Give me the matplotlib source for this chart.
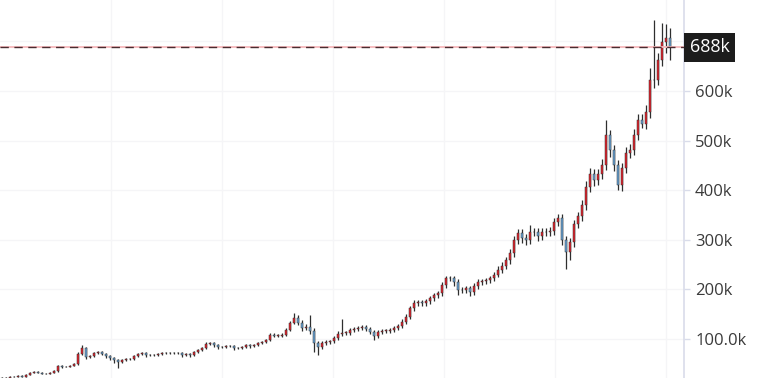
import matplotlib.pyplot as plt
import numpy as np

# weekly closes, in thousands
closes = [22, 22, 24, 24, 26, 24, 28, 32, 34, 32, 30, 30, 32, 36, 46, 44, 44, 46, 50, 69,
          81, 63, 65, 71, 73, 69, 65, 61, 57, 53, 57, 59, 59, 65, 69, 71, 67, 67, 67, 69,
          71, 71, 71, 71, 71, 67, 69, 67, 73, 77, 81, 89, 91, 87, 83, 83, 85, 85, 81, 81,
          83, 87, 85, 87, 91, 93, 97, 109, 107, 107, 109, 119, 133, 143, 133, 123, 125, 117, 91, 83,
          91, 93, 95, 103, 111, 113, 113, 119, 121, 123, 125, 121, 115, 107, 115, 117, 117, 119, 123, 127,
          135, 145, 162, 172, 174, 172, 176, 182, 188, 192, 208, 222, 222, 214, 198, 198, 202, 194, 206, 214,
          216, 218, 222, 230, 240, 248, 259, 273, 299, 313, 303, 299, 315, 315, 307, 315, 315, 317, 335, 343,
          299, 275, 295, 331, 347, 370, 406, 432, 420, 432, 450, 511, 481, 450, 410, 444, 475, 481, 511, 541,
          533, 558, 622, 622, 663, 699, 707, 688]
first_open = 20

# wick extension above / below the body, in thousands
wick_up = [1, 1, 1, 1, 2, 1, 1, 2, 1, 1, 1, 1, 1, 2, 2, 1, 1, 2, 2, 4,
           6, 2, 2, 3, 2, 2, 2, 2, 2, 2, 3, 2, 2, 2, 3, 2, 2, 2, 2, 3,
           2, 2, 2, 2, 2, 2, 2, 2, 3, 3, 3, 4, 3, 3, 2, 2, 3, 2, 2, 2,
           3, 3, 2, 3, 3, 3, 3, 4, 4, 3, 3, 4, 4, 9, 5, 5, 5, 23, 5, 5,
           4, 4, 4, 4, 5, 27, 4, 4, 4, 4, 4, 4, 4, 3, 4, 4, 4, 4, 4, 4,
           5, 5, 5, 6, 5, 5, 5, 5, 5, 5, 6, 6, 5, 5, 6, 6, 5, 5, 6, 6,
           5, 5, 6, 6, 7, 7, 7, 8, 8, 8, 8, 8, 14, 8, 8, 8, 8, 8, 8, 10,
           10, 8, 8, 8, 10, 10, 12, 12, 10, 10, 12, 30, 10, 10, 10, 10, 12, 12, 12, 12,
           12, 14, 25, 121, 14, 39, 29, 20]
wick_dn = [1, 1, 1, 1, 1, 1, 1, 1, 1, 1, 1, 1, 1, 1, 2, 2, 1, 1, 1, 2,
           2, 4, 2, 2, 2, 2, 3, 3, 6, 12, 2, 2, 2, 2, 2, 2, 3, 2, 2, 2,
           2, 2, 2, 2, 2, 3, 2, 3, 2, 2, 2, 2, 2, 3, 3, 2, 2, 2, 3, 2,
           2, 2, 3, 2, 2, 2, 2, 2, 3, 3, 2, 2, 3, 3, 5, 6, 4, 6, 17, 15,
           4, 4, 4, 4, 4, 4, 4, 4, 4, 4, 4, 5, 5, 10, 4, 4, 4, 4, 4, 4,
           4, 4, 5, 5, 6, 6, 5, 5, 5, 5, 5, 5, 6, 8, 10, 6, 6, 8, 6, 6,
           5, 5, 5, 6, 6, 6, 7, 7, 8, 8, 10, 10, 8, 8, 10, 8, 8, 8, 8, 8,
           10, 33, 15, 10, 8, 10, 10, 10, 12, 10, 10, 10, 15, 12, 10, 12, 10, 10, 10, 10,
           8, 10, 12, 15, 10, 12, 22, 26]

last_price = 688
y_ticks = [100, 200, 300, 400, 500, 600]
y_labels = ['100.0k', '200k', '300k', '400k', '500k', '600k']

opens = [first_open] + closes[:-1]
x = np.arange(len(closes))

up_col = '#e3232c'
dn_col = '#6aa6d8'
wick_col = '#2e2e2e'

fig = plt.figure(figsize=(7.7, 3.78), dpi=100)
ax = fig.add_axes([0, 0, 684 / 770, 1])

for i in range(len(closes)):
    o, c = opens[i], closes[i]
    top, bot = max(o, c), min(o, c)
    ax.vlines(x[i], bot - wick_dn[i], top + wick_up[i], color=wick_col, lw=0.9, zorder=2)
    ax.bar(x[i], max(top - bot, 0.3), bottom=bot, width=0.62,
           color=up_col if c >= o else dn_col, edgecolor=wick_col, linewidth=0.35, zorder=3)

# last price line and tag
ax.axhline(last_price, color='#f6b8bb', lw=1.3, zorder=4)
ax.axhline(last_price, color='#4a2c30', lw=1.0, dashes=(6, 4), zorder=5)
ax.annotate(f'{last_price}k', xy=(1.0, last_price), xycoords=ax.get_yaxis_transform(),
            xytext=(4, 0), textcoords='offset points',
            ha='left', va='center', fontsize=13, color='white', family='Open Sans',
            bbox=dict(boxstyle='square,pad=0.32', fc='#1c1c1c', ec='none'),
            zorder=10, annotation_clip=False)

ax.set_xlim(-0.5, 170.5)
ax.set_ylim(21.4, 783.4)

ax.set_yticks(y_ticks + [700])
ax.set_yticklabels(y_labels + [''])
ax.yaxis.tick_right()
ax.tick_params(axis='y', length=4, width=1, color='#d9dcea', pad=4, labelsize=12, labelcolor='#3a3a3a')
for lab in ax.get_yticklabels():
    lab.set_family('Open Sans')
ax.set_xticks(np.arange(-0.5, 171, 27.75)[1:])
ax.tick_params(axis='x', length=0, labelbottom=False)
ax.grid(True, color='#f5f5f7', lw=1, zorder=0)
ax.set_axisbelow(True)

for s in ['left', 'top', 'bottom']:
    ax.spines[s].set_visible(False)
ax.spines['right'].set_color('#d9dcea')
ax.spines['right'].set_linewidth(1.2)

fig.savefig('out.png', dpi=100)
